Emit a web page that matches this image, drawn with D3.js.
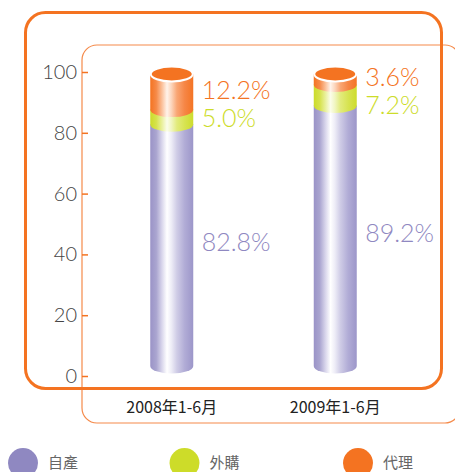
<!DOCTYPE html>
<html>
<head>
<meta charset="utf-8">
<script src="https://cdn.jsdelivr.net/npm/d3@7"></script>
<style>
  html, body { margin: 0; padding: 0; background: #fff; }
  svg { display: block; }
</style>
</head>
<body>
<svg id="chart" width="455" height="472"></svg>
<script>
// data
var categories = ["2008年1-6月", "2009年1-6月"];
var series = ["自產", "外購", "代理"];
var own = [82.8, 89.2];        // 自產
var bought = [5.0, 7.2];       // 外購
var agency = [12.2, 3.6];      // 代理
var yTicks = [0, 20, 40, 60, 80, 100];

var colors = { "自產": "#8f88c1", "外購": "#cddc29", "代理": "#f47321" };
// light ramp for each cylinder (left edge -> highlight -> right edge)
var ramps = {
    "自產": ["#9a93c7", "#aaa5d0", "#d8d5eb", "#ffffff", "#eeedf7", "#cfcce6", "#b1acd6", "#9c96c9"],
    "外購": ["#cbdb2a", "#d6e24c", "#e9f09b", "#fbfde9", "#f1f6c2", "#e2eb7c", "#d7e352", "#cddc2c"],
    "代理": ["#f47321", "#f68a48", "#fbbf98", "#fff3ea", "#fcd6bd", "#f9a674", "#f68646", "#f47424"]
};

var svg = d3.select("#chart");
var defs = svg.append("defs");

// scales
var y = d3.scaleLinear().domain([0, 100]).range([376, 72]);      // axis
var yb = d3.scaleLinear().domain([0, 100]).range([366, 74]);     // cylinder body
var x = d3.scaleBand().domain(categories).range([90, 417]);
var cx = function(c){ return x(c) + x.bandwidth() / 2; };
var rx = 21.5, ry = 7.5;

// gradients
series.forEach(function(s, i){
    var g = defs.append("linearGradient")
	.attr("id", "grad" + i)
	.attr("x1", "0%").attr("x2", "100%").attr("y1", "0%").attr("y2", "0%");
    var r = ramps[s];
    g.selectAll("stop").data(r).enter().append("stop")
	.attr("offset", function(d, k){ return [0, 14, 27, 39, 49, 62, 80, 100][k] + "%"; })
	.attr("stop-color", function(d){ return d; });
});

// frames
svg.append("rect")
    .attr("x", 82).attr("y", 45).attr("width", 378).attr("height", 378)
    .attr("rx", 15).attr("ry", 15)
    .attr("fill", "none").attr("stroke", "#f58a4a").attr("stroke-width", 1.2);

svg.append("rect")
    .attr("x", 25.5).attr("y", 12.5).attr("width", 416).attr("height", 376)
    .attr("rx", 20).attr("ry", 20)
    .attr("fill", "none").attr("stroke", "#f47321").attr("stroke-width", 3);

// y axis (ticks only, the inner frame is the axis line)
var yAxis = svg.append("g").attr("transform", "translate(82,0)")
    .call(d3.axisRight(y).tickValues(yTicks).tickSize(6).tickFormat(""));
yAxis.select(".domain").remove();
yAxis.selectAll("line").attr("stroke", "#f47321").attr("stroke-width", 1.5);

svg.append("g").selectAll("text").data(yTicks).enter().append("text")
    .attr("x", 77).attr("y", function(d){ return y(d); })
    .attr("dy", "0.35em")
    .attr("text-anchor", "end")
    .attr("font-family", "Lato, 'DejaVu Sans', sans-serif")
    .attr("font-weight", 300)
    .attr("font-size", 20)
    .attr("fill", "#444")
    .text(function(d){ return d; });

// stack: bottom to top
var rows = categories.map(function(c, i){
    return { cat: c, "自產": own[i], "外購": bought[i], "代理": agency[i] };
});
var stacked = d3.stack().keys(series)(rows);

function segPath(c, v0, v1){
    var l = cx(c) - rx, r = cx(c) + rx;
    var t = yb(v1), b = yb(v0);
    return "M" + l + "," + t + "L" + l + "," + b +
	"A" + rx + "," + ry + " 0 0 0 " + r + "," + b +
	"L" + r + "," + t + "Z";
}

var bars = svg.append("g");
stacked.forEach(function(layer, i){
    bars.selectAll(".seg" + i).data(layer).enter().append("path")
	.attr("class", "seg" + i)
	.attr("d", function(d){ return segPath(d.data.cat, d[0], d[1]); })
	.attr("fill", "url(#grad" + i + ")");
});

// top caps
bars.selectAll(".cap").data(rows).enter().append("ellipse")
    .attr("class", "cap")
    .attr("cx", function(d){ return cx(d.cat); })
    .attr("cy", yb(100))
    .attr("rx", rx - 0.5).attr("ry", ry)
    .attr("fill", colors["代理"])
    .attr("stroke", "#fff").attr("stroke-width", 2);

// value labels
var pctFont = "Lato, 'DejaVu Sans', sans-serif";
var labels = svg.append("g")
    .attr("font-family", pctFont).attr("font-weight", 300).attr("font-size", 25);

rows.forEach(function(d, i){
    var lx = cx(d.cat) + 30;
    var oMid = yb(100 - agency[i] / 2) - 2;
    var gMid = Math.max(yb(own[i] + bought[i] / 2), oMid + 28);
    var pMid = yb(own[i] / 2) - 3;
    var items = [
	{ v: agency[i], y: oMid, c: colors["代理"] },
	{ v: bought[i], y: gMid, c: colors["外購"] },
	{ v: own[i], y: pMid, c: colors["自產"] }
    ];
    labels.selectAll(".l" + i).data(items).enter().append("text")
	.attr("class", "l" + i)
	.attr("x", lx).attr("y", function(e){ return e.y; })
	.attr("dy", "0.35em")
	.attr("fill", function(e){ return e.c; })
	.text(function(e){ return e.v.toFixed(1) + "%"; });
});

// category labels
svg.append("g").selectAll("text").data(categories).enter().append("text")
    .attr("x", cx).attr("y", 413)
    .attr("text-anchor", "middle")
    .attr("font-family", "'Noto Sans CJK TC', 'Noto Sans', sans-serif")
    .attr("font-size", 16)
    .attr("fill", "#222")
    .text(function(d){ return d; });

// legend
var legX = [23, 184.5, 358];
var leg = svg.append("g").selectAll("g").data(series).enter().append("g")
    .attr("transform", function(d, i){ return "translate(" + legX[i] + ",463)"; });
leg.append("circle").attr("r", 15).attr("fill", function(d){ return colors[d]; });
leg.append("text")
    .attr("x", 25).attr("dy", "0.35em")
    .attr("font-family", "'Noto Sans CJK TC', sans-serif")
    .attr("font-size", 15)
    .attr("fill", "#666")
    .text(function(d){ return d; });
</script>
</body>
</html>
